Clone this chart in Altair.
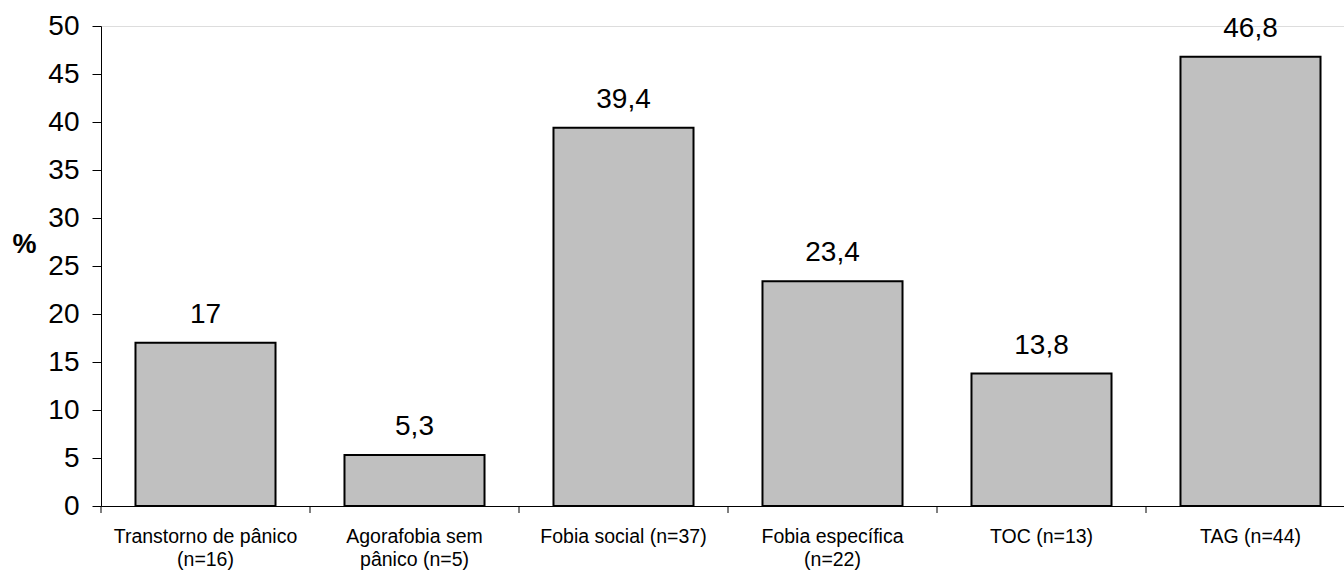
import altair as alt
import pandas as pd

categories = [
    "Transtorno de pânico (n=16)",
    "Agorafobia sem pânico (n=5)",
    "Fobia social (n=37)",
    "Fobia específica (n=22)",
    "TOC (n=13)",
    "TAG (n=44)",
]
label_lines = [
    ["Transtorno de pânico", "(n=16)"],
    ["Agorafobia sem", "pânico (n=5)"],
    ["Fobia social (n=37)"],
    ["Fobia específica", "(n=22)"],
    ["TOC (n=13)"],
    ["TAG (n=44)"],
]
values = [17, 5.3, 39.4, 23.4, 13.8, 46.8]
value_labels = ["17", "5,3", "39,4", "23,4", "13,8", "46,8"]
y_ticks = [0, 5, 10, 15, 20, 25, 30, 35, 40, 45, 50]

df = pd.DataFrame({"cat": categories, "value": values, "label": value_labels})

label_expr = "{" + ", ".join(
    '"%s": %s' % (c, "[" + ", ".join('"%s"' % l for l in lines) + "]")
    for c, lines in zip(categories, label_lines)
) + "}[datum.value]"

FONT = "Liberation Sans"
W = 1243
H = 480
STEP_RANGE = 1254

xscale = alt.Scale(domain=categories, range=[0, STEP_RANGE], paddingInner=0, paddingOuter=0)
yscale = alt.Scale(domain=[0, 50], nice=False)

base = alt.Chart(df)

bars = base.mark_bar(
    color="#C0C0C0", stroke="black", strokeWidth=2, width={"band": 0.67}
).encode(
    x=alt.X(
        "cat:N",
        sort=categories,
        scale=xscale,
        axis=alt.Axis(
            title=None,
            labelExpr=label_expr,
            labelAngle=0,
            labelLimit=0,
            labelOverlap=False,
            ticks=False,
            labelFont=FONT,
            labelFontSize=19.5,
            labelColor="black",
            labelPadding=21,
            labelLineHeight=23,
            labelBaseline="top",
            domainColor="black",
            domainWidth=1,
        ),
    ),
    y=alt.Y(
        "value:Q",
        scale=yscale,
        axis=alt.Axis(
            values=y_ticks,
            title="%",
            titleAngle=0,
            titleFont=FONT,
            titleFontSize=27,
            titleFontWeight="bold",
            titleColor="black",
            titleX=-77,
            titleY=218,
            titleAlign="center",
            titleBaseline="middle",
            labelFont=FONT,
            labelFontSize=28,
            labelColor="black",
            labelPadding=13,
            tickSize=9,
            tickColor="black",
            domainColor="black",
            grid=False,
        ),
    ),
)

text = base.mark_text(
    font=FONT, fontSize=28, color="black", dy=-20, baseline="alphabetic"
).encode(
    x=alt.X("cat:N", sort=categories, scale=xscale),
    y=alt.Y("value:Q", scale=yscale),
    text="label:N",
)

ticks = base.mark_rule(color="black", strokeWidth=1).encode(
    x=alt.X("cat:N", sort=categories, scale=xscale, bandPosition=0),
    y=alt.value(H),
    y2=alt.value(H + 7),
)

chart = (
    alt.layer(bars, ticks, text)
    .properties(
        width=W,
        height=H,
        autosize=alt.AutoSizeParams(type="none"),
        padding={"left": 101, "top": 26, "right": 0, "bottom": 69},
    )
    .configure_view(stroke=None)
    .configure(background="white")
)

chart.save("out.html", embed_options={"renderer": "svg", "actions": False})
